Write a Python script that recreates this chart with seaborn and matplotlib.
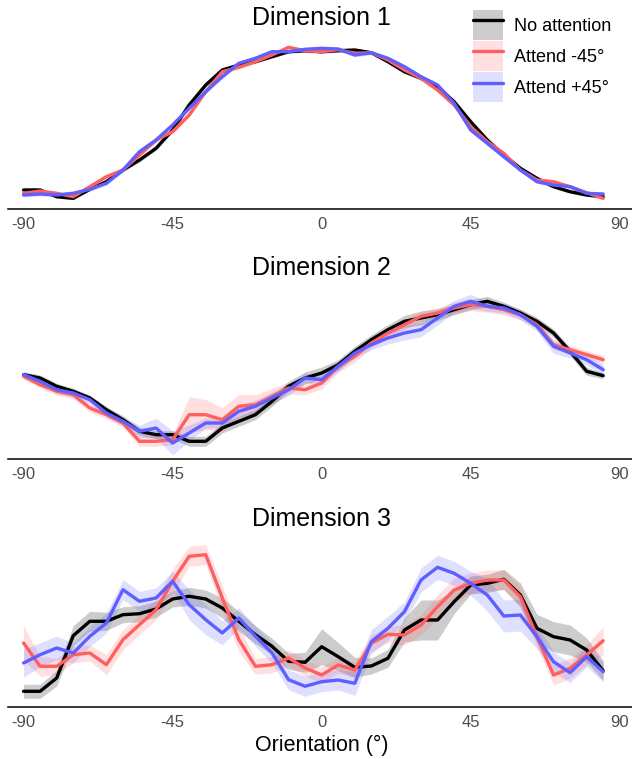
import numpy as np
import pandas as pd
import matplotlib
matplotlib.use("Agg")
import matplotlib.pyplot as plt
from matplotlib.patches import Patch
from matplotlib.lines import Line2D
import seaborn as sns

# orientations (deg), one point every 5 degrees
orientation = list(range(-90, 90, 5))

conditions = ["No attention", "Attend -45\u00b0", "Attend +45\u00b0"]
colors = ["#000000", "#ff5f5f", "#5f5fff"]

# Dimension 1 (mean response, arbitrary units)
d1_none = [19.0, 19.0, 12.3, 10.7, 19.7, 27.3, 39.0, 49.0, 60.7, 79.0, 104.0, 124.0,
           139.0, 144.0, 147.3, 152.3, 157.3, 158.3, 157.3, 158.3, 159.0, 156.3, 147.3, 137.3,
           130.7, 122.3, 107.3, 87.3, 69.0, 54.0, 40.7, 30.7, 22.3, 17.3, 14.0, 12.3]
d1_neg = [15.7, 18.0, 15.7, 12.3, 22.3, 32.3, 39.0, 54.0, 69.0, 77.3, 94.0, 117.3,
          137.3, 141.7, 147.3, 154.0, 161.7, 158.3, 157.3, 159.3, 155.7, 156.3, 149.0, 139.0,
          130.7, 119.0, 104.0, 82.3, 67.3, 55.7, 39.0, 29.0, 27.3, 22.3, 16.3, 10.7]
d1_pos = [14.0, 15.0, 14.0, 15.7, 19.7, 25.7, 39.0, 57.3, 69.0, 84.0, 100.7, 117.3,
          132.3, 145.7, 150.7, 157.3, 157.3, 159.7, 160.7, 160.0, 154.0, 156.3, 150.7, 142.3,
          132.3, 124.0, 105.7, 79.0, 65.7, 52.3, 39.0, 27.3, 24.0, 22.3, 15.7, 15.0]
d1_none_se = [2, 2, 1.5, 1.5, 1.5, 1.5, 2, 2, 2, 2, 2, 2, 2, 1.5, 1.5, 1.5, 1.5, 1.5,
              1.5, 1.5, 1.5, 1.5, 1.5, 2, 2, 2, 2, 2, 2, 2, 2, 1.5, 1.5, 1.5, 1.5, 1.5]
d1_neg_se = [2, 2, 2, 2, 2, 2, 2, 2.5, 2.5, 2.5, 2.5, 2, 2, 2, 2, 2, 2, 2,
             2, 2, 2, 2, 2, 2, 2, 2, 2, 2, 2, 2, 2, 2, 2, 2, 2, 2]
d1_pos_se = [2, 2, 2, 2, 2, 2, 2, 2.5, 2.5, 2.5, 2.5, 2, 2, 2, 2, 2, 2, 2,
             2, 2, 2, 2, 2, 2, 2, 2, 2, 2, 2, 2, 2, 2, 2, 2, 2, 2]

# Dimension 2
d2_none = [84.3, 81.0, 72.7, 67.7, 61.0, 49.3, 39.3, 27.7, 24.3, 24.3, 17.7, 17.7,
           31.0, 37.7, 44.3, 57.7, 72.7, 81.0, 86.0, 94.3, 107.7, 119.3, 129.3, 137.7,
           141.0, 144.3, 149.3, 154.3, 157.7, 152.7, 146.0, 137.7, 126.0, 107.7, 87.7, 83.3]
d2_neg = [82.7, 74.3, 67.7, 64.3, 51.0, 44.3, 36.0, 17.7, 17.7, 19.3, 44.3, 44.3,
          39.3, 52.7, 54.3, 62.7, 71.0, 69.3, 76.0, 92.7, 102.7, 116.0, 126.0, 134.3,
          142.7, 146.0, 151.0, 154.3, 152.7, 149.3, 144.3, 134.3, 114.3, 109.3, 104.3, 99.3]
d2_pos = [84.3, 77.7, 69.3, 66.0, 59.3, 46.0, 37.7, 27.7, 31.0, 16.0, 26.0, 36.0,
          36.0, 47.7, 52.7, 61.0, 69.3, 81.0, 79.3, 92.7, 106.0, 114.3, 121.0, 126.0,
          129.3, 141.0, 152.7, 157.7, 152.7, 151.0, 144.3, 132.7, 112.7, 106.0, 99.3, 89.3]
d2_none_se = [3, 3, 3, 3, 3, 3, 4, 4, 4, 4, 5, 5, 5, 5, 5, 5, 5, 6,
              6, 5, 5, 5, 5, 6, 7, 6, 5, 5, 5, 4, 4, 4, 4, 4, 4, 3]
d2_neg_se = [3, 3, 4, 4, 4, 4, 4, 5, 5, 5, 18, 15, 12, 12, 10, 8, 6, 5,
             6, 6, 6, 5, 5, 5, 5, 5, 6, 6, 6, 5, 5, 4, 4, 4, 4, 4]
d2_pos_se = [3, 3, 4, 4, 4, 4, 4, 6, 10, 12, 8, 5, 5, 6, 6, 6, 6, 5,
             5, 5, 5, 5, 6, 7, 7, 7, 6, 7, 5, 5, 5, 5, 7, 5, 5, 5]

# Dimension 3
d3_none = [15.7, 15.7, 29.0, 71.3, 85.7, 85.7, 92.3, 93.3, 98.0, 108.0, 110.7, 108.0,
           99.0, 85.7, 72.3, 60.7, 45.7, 44.7, 60.3, 50.3, 39.7, 41.0, 48.7, 77.0,
           87.0, 87.0, 105.3, 122.0, 123.7, 127.7, 112.0, 78.7, 70.3, 67.0, 57.0, 36.3]
d3_neg = [64.0, 40.7, 40.7, 52.3, 54.0, 42.3, 67.3, 82.3, 97.3, 125.7, 150.7, 152.3,
          109.0, 67.3, 40.7, 42.3, 49.0, 39.0, 32.0, 42.0, 37.0, 63.7, 72.7, 72.0,
          82.0, 100.3, 117.0, 123.7, 127.0, 127.0, 110.3, 70.3, 32.0, 38.7, 52.0, 66.3]
d3_pos = [44.0, 52.3, 59.0, 54.0, 70.7, 84.0, 117.3, 105.7, 109.0, 125.7, 102.3, 87.3,
          74.0, 89.0, 70.7, 54.0, 27.3, 20.7, 25.3, 27.0, 23.7, 65.3, 78.7, 95.3,
          127.0, 139.7, 133.7, 123.7, 112.0, 91.0, 92.0, 70.3, 45.3, 34.3, 50.3, 35.3]
d3_none_se = [7, 7, 8, 10, 10, 9, 8, 8, 8, 8, 9, 9, 10, 10, 9, 8, 8, 10,
              18, 14, 10, 8, 9, 12, 20, 20, 12, 9, 9, 10, 12, 14, 15, 15, 12, 10]
d3_neg_se = [17, 10, 8, 8, 8, 10, 10, 10, 10, 12, 10, 10, 12, 12, 8, 8, 8, 8,
             8, 8, 8, 8, 8, 10, 10, 12, 12, 10, 10, 10, 10, 10, 10, 10, 10, 14]
d3_pos_se = [14, 12, 12, 10, 10, 10, 10, 10, 10, 10, 15, 15, 12, 10, 10, 10, 10, 10,
             10, 10, 12, 12, 12, 10, 12, 12, 12, 12, 16, 16, 16, 12, 10, 10, 10, 10]

panels = [
    ("Dimension 1", [d1_none, d1_neg, d1_pos], [d1_none_se, d1_neg_se, d1_pos_se]),
    ("Dimension 2", [d2_none, d2_neg, d2_pos], [d2_none_se, d2_neg_se, d2_pos_se]),
    ("Dimension 3", [d3_none, d3_neg, d3_pos], [d3_none_se, d3_neg_se, d3_pos_se]),
]

sns.set_style("white")
plt.rcParams["font.family"] = ["Liberation Sans", "DejaVu Sans"]
plt.rcParams["axes.unicode_minus"] = False
plt.rcParams["text.color"] = "black"

W, H = 632, 759
fig = plt.figure(figsize=(W / 100, H / 100), dpi=100)

axis_y = [209, 459, 707]   # pixel row of each x axis line
panel_h = 168
title_y = [18, 268, 519]

for (title, means, ses), ay, ty in zip(panels, axis_y, title_y):
    ax = fig.add_axes([8 / W, 1 - ay / H, 624 / W, panel_h / H])
    frames = []
    for cond, m, s in zip(conditions, means, ses):
        frames.append(pd.DataFrame({"orientation": orientation, "response": m,
                                    "se": s, "condition": cond}))
    df = pd.concat(frames, ignore_index=True)

    # ribbons first, then lines on top
    for cond, col in zip(conditions, colors):
        sub = df[df.condition == cond]
        ax.fill_between(sub.orientation, sub.response - sub.se, sub.response + sub.se,
                        color=col, alpha=0.2, linewidth=0, zorder=1)
    sns.lineplot(data=df, x="orientation", y="response", hue="condition",
                 hue_order=conditions, palette=colors, linewidth=2.4,
                 legend=False, errorbar=None, ax=ax, zorder=2)

    ax.set_xlim(-94.7, 93.7)
    ax.set_ylim(0, panel_h)
    ax.set_xticks([-90, -45, 0, 45, 90])
    ax.set_yticks([])
    ax.set_xlabel("")
    ax.set_ylabel("")
    for side in ["left", "top", "right"]:
        ax.spines[side].set_visible(False)
    ax.spines["bottom"].set_linewidth(1.1)
    ax.spines["bottom"].set_color("black")
    ax.tick_params(axis="x", length=3, width=1.0, color="#333333", pad=3,
                   labelsize=12, labelcolor="#4d4d4d")
    ax.patch.set_alpha(0)
    fig.text(321.7 / W, 1 - ty / H, title, ha="center", va="center", fontsize=18,
             color="black")

fig.text(321.7 / W, 1 - 745 / H, "Orientation (\u00b0)", ha="center", va="center",
         fontsize=15.5, color="black")

handles = [(Patch(facecolor=c, alpha=0.2, edgecolor="none"),
            Line2D([], [], color=c, linewidth=2.4)) for c in colors]
leg = fig.legend(handles, conditions, loc="upper left", bbox_to_anchor=(473 / W, 1 - 10 / H),
                 frameon=False, fontsize=13, handlelength=1.66, handleheight=2.18,
                 labelspacing=0.06, handletextpad=0.6, borderpad=0, borderaxespad=0)
for t in leg.get_texts():
    t.set_color("black")

fig.savefig("out.png", dpi=100)
